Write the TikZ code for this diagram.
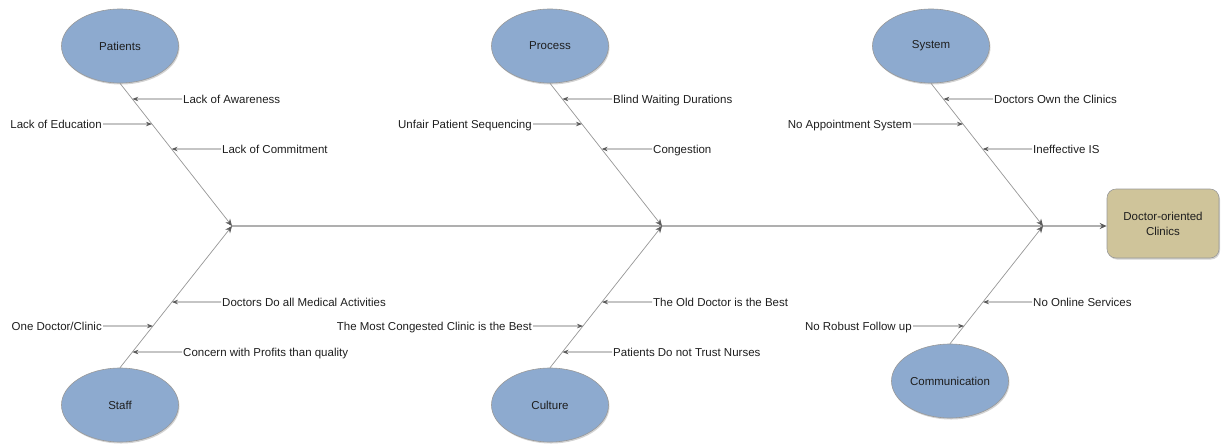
\documentclass[tikz,border=0pt]{standalone}
\usepackage{fontspec}
\setmainfont{Liberation Sans}
\usetikzlibrary{shapes.geometric,shadows,arrows.meta}
\definecolor{ellfill}{RGB}{141,170,207}
\definecolor{boxfill}{RGB}{207,196,154}
\definecolor{txt}{RGB}{30,30,30}
\definecolor{bonec}{RGB}{150,150,150}
\definecolor{spinec}{RGB}{175,175,175}
\definecolor{subc}{RGB}{90,90,90}
\begin{document}
\begin{tikzpicture}[x=1pt,y=-1pt,
  font=\fontsize{11.5}{15}\selectfont, text=txt,
  cat/.style={ellipse, draw=gray!80, line width=0.6pt, fill=ellfill, minimum width=117pt, minimum height=74pt, inner sep=0pt, drop shadow={opacity=0.35,shadow xshift=1pt,shadow yshift=-1.5pt}},
  effect/.style={rounded corners=9pt, draw=gray!80, line width=0.6pt, fill=boxfill, minimum width=112pt, minimum height=69pt, align=center, drop shadow={opacity=0.35,shadow xshift=1pt,shadow yshift=-1.5pt}},
  lbl/.style={inner sep=1pt, text height=8.2pt, text depth=0pt},
  bone/.style={draw=bonec, line width=0.7pt, -{Stealth[length=7pt,width=6pt,color=subc]}},
  spine/.style={draw=spinec, line width=1.6pt},
  sub/.style={draw=subc, line width=0.8pt, -{Stealth[length=6pt,width=4.5pt]}}
]
\useasboundingbox (0,0) rectangle (1221,445);

% categories
\node[cat] (pat) at (120,46) {Patients};
\node[cat] (pro) at (550,46) {Process};
\node[cat] (sys) at (931,46) {System};
\node[cat] (sta) at (120,405) {Staff};
\node[cat] (cul) at (550,405) {Culture};
\node[cat] (com) at (950,381) {Communication};

\node[effect] (eff) at (1163,223.5) {Doctor-oriented\\Clinics};

\coordinate (j1) at (232,226);
\coordinate (j2) at (662,226);
\coordinate (j3) at (1043,226);

% spine
\draw[spine] (j1) -- (j3);
\draw[spine, -{Stealth[length=7pt,width=6pt,color=subc]}] (j3) -- (j3 -| eff.west);

% bones
\draw[bone] (pat.south) -- (j1);
\draw[bone] (sta.north) -- (j1);
\draw[bone] (pro.south) -- (j2);
\draw[bone] (cul.north) -- (j2);
\draw[bone] (sys.south) -- (j3);
\draw[bone] (com.north) -- (j3);

% Patients causes
\node[lbl, anchor=west] (p1) at (182,99) {Lack of Awareness};
\node[lbl, anchor=east] (p2) at (103,124) {Lack of Education};
\node[lbl, anchor=west] (p3) at (221,149) {Lack of Commitment};
\draw[sub] (p1.west) -- (intersection of pat.south--j1 and p1.west--p1.east);
\draw[sub] (p2.east) -- (intersection of pat.south--j1 and p2.west--p2.east);
\draw[sub] (p3.west) -- (intersection of pat.south--j1 and p3.west--p3.east);

% Process causes
\node[lbl, anchor=west] (r1) at (612,99) {Blind Waiting Durations};
\node[lbl, anchor=east] (r2) at (533,124) {Unfair Patient Sequencing};
\node[lbl, anchor=west] (r3) at (652,149) {Congestion};
\draw[sub] (r1.west) -- (intersection of pro.south--j2 and r1.west--r1.east);
\draw[sub] (r2.east) -- (intersection of pro.south--j2 and r2.west--r2.east);
\draw[sub] (r3.west) -- (intersection of pro.south--j2 and r3.west--r3.east);

% System causes
\node[lbl, anchor=west] (s1) at (993,99) {Doctors Own the Clinics};
\node[lbl, anchor=east] (s2) at (913,124) {No Appointment System};
\node[lbl, anchor=west] (s3) at (1032,149) {Ineffective IS};
\draw[sub] (s1.west) -- (intersection of sys.south--j3 and s1.west--s1.east);
\draw[sub] (s2.east) -- (intersection of sys.south--j3 and s2.west--s2.east);
\draw[sub] (s3.west) -- (intersection of sys.south--j3 and s3.west--s3.east);

% Staff causes
\node[lbl, anchor=west] (t1) at (221,302) {Doctors Do all Medical Activities};
\node[lbl, anchor=east] (t2) at (103,326) {One Doctor/Clinic};
\node[lbl, anchor=west] (t3) at (182,352) {Concern with Profits than quality};
\draw[sub] (t1.west) -- (intersection of sta.north--j1 and t1.west--t1.east);
\draw[sub] (t2.east) -- (intersection of sta.north--j1 and t2.west--t2.east);
\draw[sub] (t3.west) -- (intersection of sta.north--j1 and t3.west--t3.east);

% Culture causes
\node[lbl, anchor=west] (c1) at (652,302) {The Old Doctor is the Best};
\node[lbl, anchor=east] (c2) at (533,326) {The Most Congested Clinic is the Best};
\node[lbl, anchor=west] (c3) at (612,352) {Patients Do not Trust Nurses};
\draw[sub] (c1.west) -- (intersection of cul.north--j2 and c1.west--c1.east);
\draw[sub] (c2.east) -- (intersection of cul.north--j2 and c2.west--c2.east);
\draw[sub] (c3.west) -- (intersection of cul.north--j2 and c3.west--c3.east);

% Communication causes
\node[lbl, anchor=west] (m1) at (1032,302) {No Online Services};
\node[lbl, anchor=east] (m2) at (913,326) {No Robust Follow up};
\draw[sub] (m1.west) -- (intersection of com.north--j3 and m1.west--m1.east);
\draw[sub] (m2.east) -- (intersection of com.north--j3 and m2.west--m2.east);
\end{tikzpicture}
\end{document}
